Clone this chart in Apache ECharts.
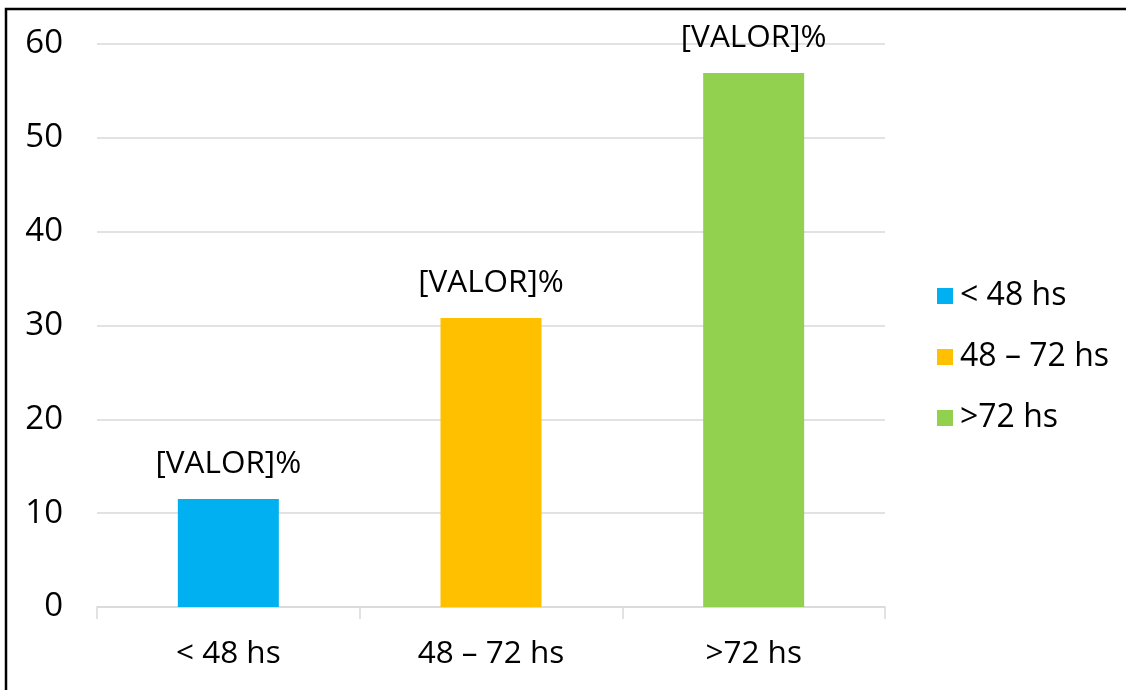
<!DOCTYPE html>
<html>
<head>
<meta charset="utf-8">
<script src="https://cdn.jsdelivr.net/npm/echarts@6/dist/echarts.min.js"></script>
<style>
html,body{margin:0;padding:0;background:#fff;}
#c{width:1126px;height:690px;}
</style>
</head>
<body>
<div id="c"></div>
<script>
var categories = ['< 48 hs', '48 – 72 hs', '>72 hs'];
var values = [11.5, 30.8, 56.9];
var yTicks = [0, 10, 20, 30, 40, 50, 60];
var labelText = '[VALOR]%';
var palette = ['#00B0F0', '#FFC000', '#92D050'];

var FONT = '"Open Sans", sans-serif';
var chart = echarts.init(document.getElementById('c'));

var series = categories.map(function (name, i) {
  return {
    name: name,
    type: 'bar',
    stack: 'all',
    barWidth: 101,
    itemStyle: { color: palette[i] },
    label: {
      show: true,
      position: 'top',
      distance: 19,
      formatter: labelText,
      fontFamily: FONT,
      fontSize: 31.5,
      color: '#000'
    },
    data: values.map(function (v, j) { return j === i ? v : '-'; })
  };
});

chart.setOption({
  animation: false,
  backgroundColor: '#fff',
  textStyle: { fontFamily: FONT },
  graphic: [{
    type: 'rect',
    shape: { x: 6, y: 9, width: 1300, height: 900 },
    style: { fill: 'none', stroke: '#000', lineWidth: 2.5 },
    z: 100
  }],
  grid: { left: 97, right: 241, top: 44, bottom: 83 },
  legend: {
    orient: 'vertical',
    left: 932,
    top: 275,
    itemWidth: 16,
    itemHeight: 16,
    itemGap: 29,
    icon: 'rect',
    data: categories,
    textStyle: { fontFamily: FONT, fontSize: 32, lineHeight: 32, color: '#000', padding: [0, 0, 0, 2] }
  },
  xAxis: {
    type: 'category',
    data: categories,
    axisLine: { lineStyle: { color: '#d9d9d9', width: 1.5 } },
    axisTick: { show: true, length: 12, lineStyle: { color: '#d9d9d9', width: 1.5 } },
    axisLabel: { fontFamily: FONT, fontSize: 31.5, color: '#000', margin: 31 }
  },
  yAxis: {
    type: 'value',
    min: yTicks[0],
    max: yTicks[yTicks.length - 1],
    interval: yTicks[1] - yTicks[0],
    axisLine: { show: false },
    axisTick: { show: false },
    splitLine: { lineStyle: { color: '#d9d9d9', width: 1.5 } },
    axisLabel: { fontFamily: FONT, fontSize: 33, color: '#000', margin: 34 }
  },
  series: series
});
</script>
</body>
</html>
